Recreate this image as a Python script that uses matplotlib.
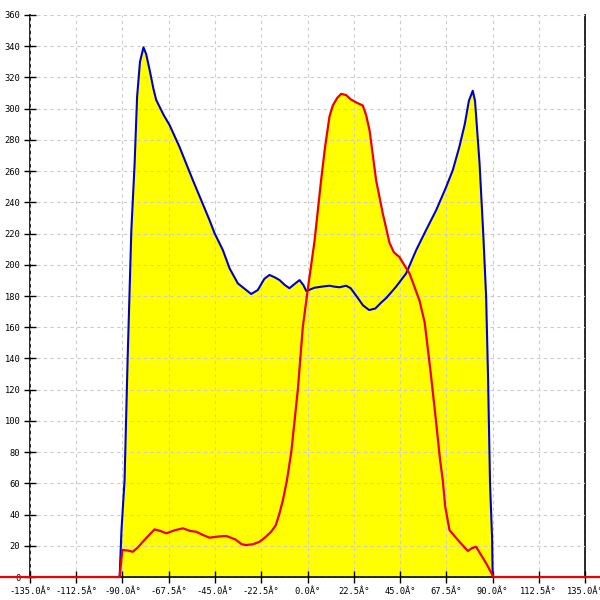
import matplotlib
matplotlib.use("Agg")
import matplotlib.pyplot as plt

# blue series (angle in degrees, value)
blue_x = [-91.4, -90.5, -89.0, -87.5, -85.7, -84.1, -82.9, -81.5, -79.8, -78.5, -76.8, -75.0,
          -73.6, -70.0, -67.1, -62.3, -55.8, -50.0, -47.7, -45.2, -41.2, -37.9, -33.9, -30.0,
          -27.4, -24.2, -21.0, -18.5, -16.0, -13.6, -11.0, -8.8, -6.0, -3.9, -2.0, -0.6,
          3.4, 7.0, 10.7, 13.0, 15.6, 18.8, 21.0, 24.5, 27.0, 30.0, 33.0, 36.0, 38.3, 43.1,
          48.0, 52.9, 57.7, 62.6, 67.5, 70.7, 73.9, 76.5, 78.5, 80.4, 81.5, 83.7, 85.5, 86.9,
          87.8, 88.8, 89.8, 90.1]
blue_y = [0, 30, 62, 140, 222, 265, 307.6, 330, 339.3, 335, 324.8, 313,
          305.6, 296, 289.5, 275.6, 254.3, 236, 228.7, 220.2, 209.5, 197.7, 188.1, 184,
          181.3, 183.8, 191, 193.5, 192, 190.2, 187, 185, 188, 190.2, 187, 183.2,
          185.3, 186, 186.6, 186, 185.6, 186.6, 185, 178.7, 174, 171, 172, 176, 178.7, 186,
          194.5, 209.5, 222.3, 235, 250, 260.7, 275.7, 290, 305, 311.5, 305, 265, 220, 179.6,
          130, 60, 25, 0]

# red series
red_x = [-150.0, -91.4, -90.1, -87.5, -85.0, -82.5, -80.1, -77.0, -74.4, -71.5, -68.7, -64.5,
         -60.6, -57.0, -54.1, -51.0, -47.7, -43.0, -39.5, -35.0, -32.0, -29.8, -26.5, -23.3,
         -20.5, -17.7, -15.5, -13.8, -12.0, -10.0, -7.9, -4.7, -2.3, 0.1, 3.4, 6.6, 8.5,
         10.7, 12.3, 14.5, 16.4, 18.8, 21.0, 23.7, 26.9, 28.5, 30.2, 33.4, 36.6, 39.9, 42.0,
         44.7, 47.0, 49.6, 52.0, 54.5, 57.0, 60.0, 62.5, 64.5, 65.8, 67.0, 69.1, 73.9, 78.0,
         80.0, 82.0, 84.5, 86.9, 90.5, 143.0]
red_y = [0, 0, 17.3, 17, 16.2, 19, 22.6, 27, 30.5, 29.5, 28, 30,
         31.2, 29.5, 29, 27, 25.2, 26, 26.3, 24, 21, 20.5, 21, 22.6,
         25.5, 29, 33, 40, 49, 62, 80, 120, 160, 184, 215, 254, 275,
         295, 302, 307, 309.5, 308.7, 306, 304, 302, 296, 286, 254, 233, 214, 208,
         205, 200, 194.5, 186, 177, 163, 130, 100, 75, 62, 45, 30, 22.6, 16.7,
         18.5, 19.4, 14, 8.8, 0, 0]

x_ticks = [-135.0, -112.5, -90.0, -67.5, -45.0, -22.5, 0.0, 22.5, 45.0, 67.5, 90.0, 112.5, 135.0]
y_ticks = list(range(0, 361, 20))

fig = plt.figure(figsize=(6, 6), dpi=100)
ax = fig.add_axes([0.05, 0.0383, 0.925, 0.9367])

# yellow area under both curves
ax.fill(blue_x, blue_y, color="#ffff00", lw=0, zorder=1)
ax.fill(red_x, red_y, color="#ffff00", lw=0, zorder=1)
ax.plot(blue_x, blue_y, color="#0000cc", lw=1.5, zorder=3)
ax.plot(red_x, red_y, color="#ee0000", lw=1.6, zorder=4, clip_on=False)

ax.set_xlim(-135, 135)
ax.set_ylim(0, 360)
ax.set_xticks(x_ticks)
ax.set_xticklabels(["%.1fÂ°" % t for t in x_ticks])
ax.set_yticks(y_ticks)
ax.set_yticklabels([str(t) for t in y_ticks])

ax.set_axisbelow(False)
ax.grid(True, color="#cccccc", linestyle=(0, (3, 3)), lw=0.8)
ax.spines["top"].set_visible(False)
for s in ("left", "right", "bottom"):
    ax.spines[s].set_color("black")
    ax.spines[s].set_linewidth(1.2)
ax.tick_params(direction="inout", length=8, width=1, colors="black", pad=3)
for lab in ax.get_xticklabels() + ax.get_yticklabels():
    lab.set_fontfamily("DejaVu Sans Mono")
    lab.set_fontsize(6.3)

fig.savefig("out.png", dpi=100)
